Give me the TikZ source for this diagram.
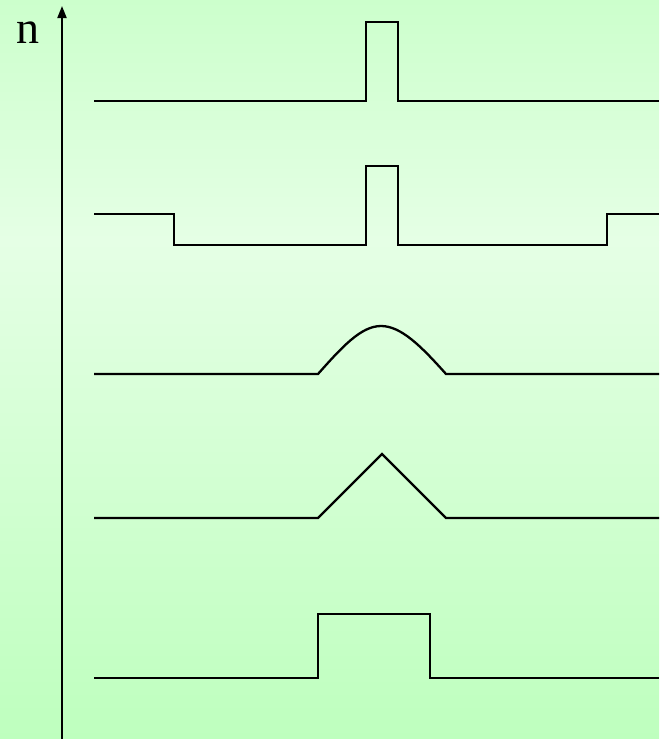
\documentclass[tikz,border=0pt]{standalone}
\usepackage{fontspec}
\setmainfont{Liberation Serif}
\usetikzlibrary{arrows.meta}

\definecolor{bgtop}{RGB}{204,255,204}
\definecolor{bgmid}{RGB}{229,255,229}
\definecolor{bgbot}{RGB}{190,255,190}

\begin{document}
\begin{tikzpicture}[
  x=1pt, y=-1pt,
  >={Triangle[length=12pt,width=9pt]},
  trace/.style={line width=2.3pt, line join=miter},
  axis/.style={line width=2pt, ->},
  every node/.style={font=\fontsize{46}{46}\selectfont}
]
  % background: light green, lightest a third of the way down
  \shade[top color=bgtop, bottom color=bgmid] (0,0) rectangle (659,240);
  \shade[top color=bgmid, bottom color=bgbot] (0,240) rectangle (659,739);
  \useasboundingbox (0,0) rectangle (659,739);

  % axis n
  \coordinate (base) at (62,739);
  \coordinate (tip) at (62,6);
  \draw[axis] (base) -- (tip);
  \node[anchor=base] (n) at (28,43) {n};

  % single narrow pulse
  \draw[trace] (94,101) -- (366,101) -- (366,22) -- (398,22) -- (398,101) -- (659,101);

  % narrow pulse on a dip
  \draw[trace] (94,214) -- (174,214) -- (174,245) -- (366,245) -- (366,166)
    -- (398,166) -- (398,245) -- (607,245) -- (607,214) -- (659,214);

  % smooth bump
  \draw[trace] (94,374) -- (318,374)
    .. controls (342,347) and (361,326) .. (381,326)
    .. controls (401,326) and (421,346) .. (446,374) -- (659,374);

  % triangle
  \draw[trace] (94,518) -- (318,518) -- (382,454) -- (446,518) -- (659,518);

  % wide pulse
  \draw[trace] (94,678) -- (318,678) -- (318,614) -- (430,614) -- (430,678) -- (659,678);
\end{tikzpicture}
\end{document}
